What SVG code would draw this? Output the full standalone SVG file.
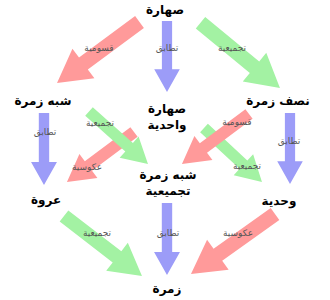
<svg xmlns="http://www.w3.org/2000/svg" xmlns:xlink="http://www.w3.org/1999/xlink" width="330" height="300" viewBox="0 0 330 300">
<style>
.r{fill:#ff9a9a}
.g{fill:#a3f2a3}
.b{fill:#9c9cf8}
.n{font-family:"DejaVu Sans",sans-serif;font-weight:bold;font-size:12px;fill:#000;text-anchor:middle}
.l{font-family:"DejaVu Sans",sans-serif;font-size:9px;fill:#555;text-anchor:middle}
</style>
<defs>
<path id="arr" d="M0,-0.072 L0.68,-0.072 L0.68,-0.18 L1,0 L0.68,0.18 L0.68,0.072 L0,0.072 Z"/>
</defs>
<rect width="330" height="300" fill="#fff"/>
<g id="connectors">
<use xlink:href="#arr" class="b" transform="translate(167,21) rotate(90) scale(71)"/>
<use xlink:href="#arr" class="r" transform="translate(139.5,22) rotate(143.5) scale(102.6)"/>
<use xlink:href="#arr" class="g" transform="translate(200.5,22.8) rotate(39.4) scale(102.8)"/>
<use xlink:href="#arr" class="b" transform="translate(44,113) rotate(90) scale(72)"/>
<use xlink:href="#arr" class="b" transform="translate(290,113) rotate(90) scale(71)"/>
<use xlink:href="#arr" class="r" transform="translate(134,132) rotate(143.3) scale(83.6)"/>
<use xlink:href="#arr" class="g" transform="translate(89,111.5) rotate(41.7) scale(79)"/>
<use xlink:href="#arr" class="g" transform="translate(204,128) rotate(42.95) scale(79.2)"/>
<use xlink:href="#arr" class="r" transform="translate(249,114) rotate(143.3) scale(83.6)"/>
<use xlink:href="#arr" class="b" transform="translate(167,203) rotate(90) scale(72)"/>
<use xlink:href="#arr" class="g" transform="translate(64,216) rotate(37.6) scale(98.4)"/>
<use xlink:href="#arr" class="r" transform="translate(275,214) rotate(144.5) scale(103.2)"/>
<text class="l" x="167" y="51">تطابق</text>
<text class="l" x="99" y="51">قسومية</text>
<text class="l" x="232" y="51">تجميعية</text>
<text class="l" x="45" y="135">تطابق</text>
<text class="l" x="289" y="144">تطابق</text>
<text class="l" x="100" y="126">تجميعية</text>
<text class="l" x="87" y="170">عكوسية</text>
<text class="l" x="237" y="125">قسومية</text>
<text class="l" x="247" y="169">تجميعية</text>
<text class="l" x="168" y="236">تطابق</text>
<text class="l" x="97" y="236">تجميعية</text>
<text class="l" x="238" y="236">عكوسية</text>
</g>
<g id="magma"><text class="n" x="165" y="14">صهارة</text></g>
<g id="semigroup-left"><text class="n" x="43" y="105">شبه زمرة</text></g>
<g id="semigroup-right"><text class="n" x="278" y="105">نصف زمرة</text></g>
<g id="unital-magma"><text class="n" x="167" y="113">صهارة</text><text class="n" x="167" y="129">واحدية</text></g>
<g id="loop"><text class="n" x="46" y="204">عروة</text></g>
<g id="assoc-semigroup"><text class="n" x="168" y="179">شبه زمرة</text><text class="n" x="168" y="195">تجميعية</text></g>
<g id="monoid"><text class="n" x="279" y="205">وحدية</text></g>
<g id="group"><text class="n" x="167" y="293">زمرة</text></g>
</svg>
